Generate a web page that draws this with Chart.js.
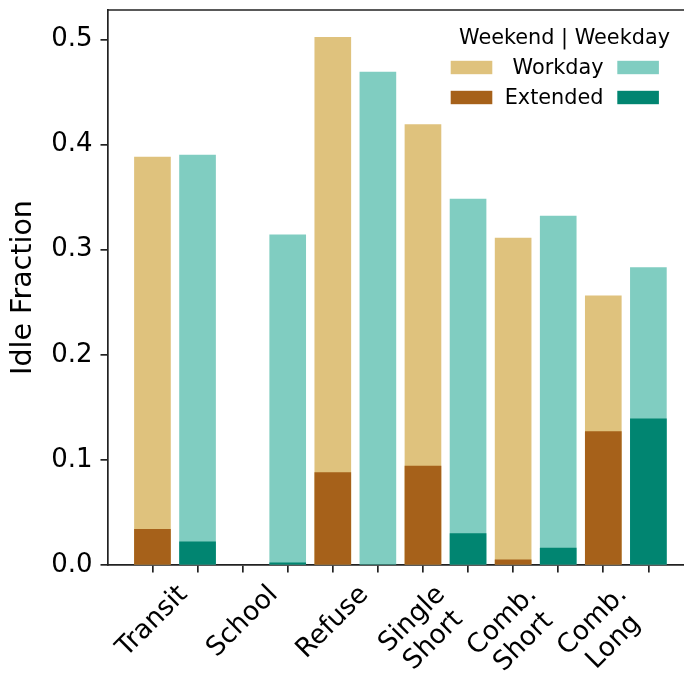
<!DOCTYPE html>
<html>
<head>
<meta charset="utf-8">
<script src="https://cdn.jsdelivr.net/npm/chart.js@4"></script>
<style>
  body { margin: 0; background: #fff; overflow: hidden; }
  canvas { display: block; }
</style>
</head>
<body>
<canvas id="grafico" width="684" height="676"></canvas>
<script>
// datos
const categorias = [["Transit"], ["School"], ["Refuse"], ["Single", "Short"], ["Comb.", "Short"], ["Comb.", "Long"]];
const weekendWorkday = [0.388, null, 0.502, 0.419, 0.311, 0.256];
const weekendExtended = [0.034, null, 0.088, 0.094, 0.005, 0.127];
const weekdayWorkday = [0.390, 0.314, 0.469, 0.348, 0.332, 0.283];
const weekdayExtended = [0.022, 0.002, 0, 0.030, 0.016, 0.139];
const yTicks = [0, 0.1, 0.2, 0.3, 0.4, 0.5];

const colores = {
  weekendWorkday: "#dfc27d",
  weekendExtended: "#a6611a",
  weekdayWorkday: "#80cdc1",
  weekdayExtended: "#018571",
};

const fuente = "'DejaVu Sans', sans-serif";
const negro = "#222";

// weekend en posiciones pares, weekday en impares
function puntos(valores, offset) {
  return valores.map((v, i) => ({ x: 2 * i + offset, y: v }));
}

const marco = {
  id: "marco",
  afterDraw(chart) {
    const ctx = chart.ctx;
    const area = chart.chartArea;
    const xScale = chart.scales.x;
    ctx.save();
    // spine de arriba
    ctx.strokeStyle = negro;
    ctx.lineWidth = 1.7;
    ctx.beginPath();
    ctx.moveTo(area.left - 0.85, area.top);
    ctx.lineTo(area.right, area.top);
    ctx.stroke();

    // etiquetas del eje x rotadas 45 grados, centradas como en matplotlib
    ctx.fillStyle = "#000";
    ctx.font = "26.5px " + fuente;
    ctx.textAlign = "center";
    ctx.textBaseline = "middle";
    const alto = 30;
    categorias.forEach((lineas, i) => {
      const px = xScale.getPixelForValue(2 * i);
      let ancho = 0;
      lineas.forEach((l) => { ancho = Math.max(ancho, ctx.measureText(l).width); });
      const h = lineas.length * alto;
      const lado = (ancho + h) / Math.SQRT2;
      const cy = area.bottom + 15 + lado / 2;
      ctx.save();
      ctx.translate(px, cy);
      ctx.rotate(-Math.PI / 4);
      lineas.forEach((l, j) => {
        ctx.fillText(l, 0, (j - (lineas.length - 1) / 2) * alto);
      });
      ctx.restore();
    });

    // leyenda
    ctx.font = "20.8px " + fuente;
    ctx.textAlign = "center";
    ctx.textBaseline = "alphabetic";
    ctx.fillText("Weekend | Weekday", 564.5, 44);
    const filas = [
      { texto: "Workday", izq: colores.weekendWorkday, der: colores.weekdayWorkday, y: 67.5 },
      { texto: "Extended", izq: colores.weekendExtended, der: colores.weekdayExtended, y: 97.5 },
    ];
    ctx.textAlign = "right";
    ctx.textBaseline = "middle";
    filas.forEach((f) => {
      ctx.fillStyle = f.izq;
      ctx.fillRect(450.7, f.y - 6.7, 41.6, 13.4);
      ctx.fillStyle = f.der;
      ctx.fillRect(617.3, f.y - 6.7, 41.6, 13.4);
      ctx.fillStyle = "#000";
      ctx.fillText(f.texto, 603.5, f.y + 1);
    });
    ctx.restore();
  },
};

const ctx = document.getElementById("grafico").getContext("2d");
new Chart(ctx, {
  type: "bar",
  data: {
    datasets: [
      { label: "Weekend Extended", data: puntos(weekendExtended, 0), backgroundColor: colores.weekendExtended, order: 0 },
      { label: "Weekday Extended", data: puntos(weekdayExtended, 1), backgroundColor: colores.weekdayExtended, order: 0 },
      { label: "Weekend Workday", data: puntos(weekendWorkday, 0), backgroundColor: colores.weekendWorkday, order: 1 },
      { label: "Weekday Workday", data: puntos(weekdayWorkday, 1), backgroundColor: colores.weekdayWorkday, order: 1 },
    ],
  },
  options: {
    responsive: false,
    animation: false,
    devicePixelRatio: 1,
    grouped: false,
    barThickness: 36,
    borderWidth: 0,
    layout: { padding: { top: 10, right: 0, left: 0, bottom: 0 } },
    plugins: {
      legend: { display: false },
      tooltip: { enabled: false },
    },
    scales: {
      x: {
        type: "linear",
        offset: false,
        min: -0.986,
        max: 11.79,
        afterBuildTicks: (axis) => {
          axis.ticks = [];
          for (let i = 0; i < categorias.length * 2; i++) axis.ticks.push({ value: i });
        },
        afterFit: (axis) => {
          axis.height = 111;
          axis.paddingLeft = 0;
          axis.paddingRight = 0;
        },
        ticks: { display: false },
        grid: { offset: false, drawOnChartArea: false, drawTicks: true, tickLength: 7.5, color: negro, lineWidth: 1.7 },
        border: { display: true, color: negro, width: 1.7 },
      },
      y: {
        min: 0,
        max: 0.528,
        afterBuildTicks: (axis) => {
          axis.ticks = yTicks.map((v) => ({ value: v }));
        },
        afterFit: (axis) => {
          axis.width = 108;
          axis.paddingTop = 0;
          axis.paddingBottom = 0;
        },
        ticks: {
          color: "#000",
          padding: 8,
          font: { family: fuente, size: 26 },
          callback: (v) => v.toFixed(1),
        },
        grid: { drawOnChartArea: false, drawTicks: true, tickLength: 7.5, color: negro, lineWidth: 1.7 },
        border: { display: true, color: negro, width: 1.7 },
        title: {
          display: true,
          text: "Idle Fraction",
          color: "#000",
          font: { family: fuente, size: 28.5 },
          padding: { top: 6, bottom: 0 },
        },
      },
    },
  },
  plugins: [marco],
});
</script>
</body>
</html>
